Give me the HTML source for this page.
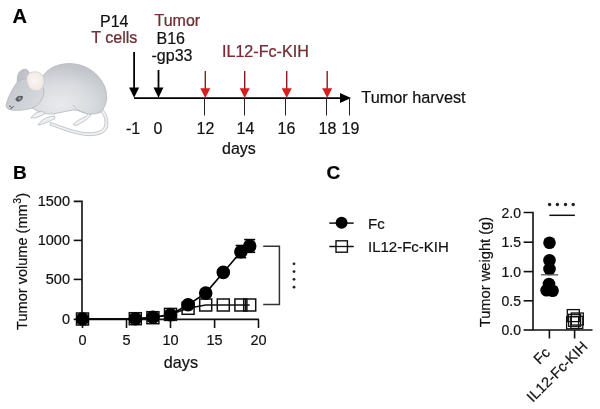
<!DOCTYPE html>
<html><head><meta charset="utf-8">
<style>
html,body{margin:0;padding:0;background:#fff;}
body{width:600px;height:409px;overflow:hidden;}
svg{display:block;will-change:transform;}
text{font-family:"Liberation Sans",sans-serif;stroke:#111;stroke-width:0.2px;}
</style></head>
<body>
<svg width="600" height="409" viewBox="0 0 600 409">
<defs>
<radialGradient id="bodyg" cx="0.38" cy="0.8" r="0.75" fx="0.38" fy="0.8">
<stop offset="0" stop-color="#e9ebee"/>
<stop offset="0.55" stop-color="#d8dbdf"/>
<stop offset="1" stop-color="#c2c6cc"/>
</radialGradient>
<linearGradient id="headg" x1="0" y1="0" x2="1" y2="0.5">
<stop offset="0" stop-color="#c0c4ca"/>
<stop offset="1" stop-color="#d6d9dd"/>
</linearGradient>
<linearGradient id="earg" x1="0" y1="0" x2="1" y2="1">
<stop offset="0" stop-color="#b8bcc2"/>
<stop offset="1" stop-color="#c8cbd0"/>
</linearGradient>
<radialGradient id="pinkg" cx="0.45" cy="0.45" r="0.6">
<stop offset="0" stop-color="#faf6f3"/>
<stop offset="1" stop-color="#f0e7e2"/>
</radialGradient>
</defs>
<rect width="600" height="409" fill="#fff"/>

<!-- ===== Panel A ===== -->
<text x="12.5" y="22.5" font-size="20" font-weight="bold" fill="#000">A</text>

<!-- mouse -->
<g id="mouse" stroke="#aeb2b8" stroke-width="0.7" stroke-linejoin="round">
  <!-- tail -->
  <path d="M102,109 C107,113 108.5,121 107.5,127 C106,133 98,136 88,135.6 C76,135 62,129.5 50,125 L50.5,122.3 C63,127 77,132.5 88,132.8 C97,133 103,130.5 104.5,126 C106,120 104,114 99.5,111 Z" fill="#eff0f2"/>
  <!-- hind foot -->
  <path d="M73,124.5 C76,121.5 81,118.5 86,116.5 L88.5,113 L91,115 C88,119 82,123 76,125.5 Z" fill="#f0f1f3"/>
  <!-- body -->
  <path d="M42,78 C47,68 58,63.5 70,63.5 C84,64 97,71 104,85 C108,94 108,104 101,112 C95,114.5 89,114.5 86,113.5 C80,111 76,110 73,110 C66,111 60,113 53,114 C46,114.5 38,112 32,108 Z" fill="url(#bodyg)"/>
  <path d="M73,105 C75,108 78,111 86,113.5" fill="none" stroke="#b4b8be"/>
  <!-- front paws -->
  <path d="M31,118 C33,114 37,111.5 42.5,111.5 L45,113.5 C41,116 36,118.5 31,118 Z" fill="#eef0f2"/>
  <path d="M38,125 C41,120 47,116.5 54.5,116 L55,118.5 C50,121 44,124 38,125 Z" fill="#eef0f2"/>
  <!-- back ear -->
  <path d="M17.5,83 C16.5,76 18.5,71 23,69.5 C27,68.5 29.5,71 29.5,75 L29,83 Z" fill="url(#earg)"/>
  <!-- head -->
  <path d="M18,81 C14,86 9,95 6.5,103 C5.5,106 6.5,108.5 9,109.5 C15,111 24,110.5 32,108 C38,106 43,100 44,92 C44,86 40,81 34,79 C28,78 22,78.5 18,81 Z" fill="url(#headg)"/>
  <!-- front ear -->
  <path d="M26.8,79 C26.5,74 31,71.5 36,71.8 C41,72.2 44.5,76 44,82.5 C43.5,88.5 40,91.5 35,90.8 C30,90 27,85 26.8,79 Z" fill="url(#pinkg)" stroke="#cfcac6"/>
  <!-- eye -->
  <path d="M15.3,99.5 C16.3,96 19.5,94.8 23,96.2 C23,99.8 20,102 17,101.6 Z" fill="#5b6067" stroke="none"/>
  <circle cx="19.6" cy="98.4" r="1.2" fill="#a4a9af" stroke="none"/>
  <g fill="#3a3d42" stroke="none">
    <circle cx="10" cy="106.2" r="0.7"/>
    <circle cx="12" cy="107.4" r="0.7"/>
    <circle cx="11" cy="108.6" r="0.6"/>
    <circle cx="13.6" cy="106.6" r="0.5"/>
  </g>
</g>

<!-- labels -->
<text x="100" y="27" font-size="16" fill="#111">P14</text>
<text x="91.2" y="42.9" font-size="16.1" fill="#862a32" stroke="#862a32">T cells</text>
<text x="154.5" y="25.9" font-size="16" fill="#862a32" stroke="#862a32">Tumor</text>
<text x="156.5" y="44" font-size="16" fill="#111">B16</text>
<text x="151.5" y="60.6" font-size="16" fill="#111">-gp33</text>
<text x="222" y="57.4" font-size="16.1" fill="#862a32" stroke="#862a32">IL12-Fc-KIH</text>
<text x="361.3" y="102.9" font-size="16.3" fill="#111">Tumor harvest</text>

<!-- timeline -->
<g>
  <line x1="134" y1="98.2" x2="341" y2="98.2" stroke="#000" stroke-width="1.8"/>
  <polygon points="340,93.1 351,98.1 340,103.1" fill="#000"/>
  <!-- black arrows -->
  <line x1="134.1" y1="52" x2="134.1" y2="89" stroke="#000" stroke-width="1.8"/>
  <polygon points="129.1,87.4 139.1,87.4 134.1,97.7" fill="#000"/>
  <line x1="158.5" y1="70" x2="158.5" y2="89" stroke="#000" stroke-width="1.8"/>
  <polygon points="153.5,87.4 163.5,87.4 158.5,97.7" fill="#000"/>
  <!-- red arrows -->
  <g stroke="#8a1c1c" stroke-width="1.4">
    <line x1="205.3" y1="71" x2="205.3" y2="90"/>
    <line x1="244.7" y1="71" x2="244.7" y2="90"/>
    <line x1="286.7" y1="71" x2="286.7" y2="90"/>
    <line x1="327.2" y1="71" x2="327.2" y2="90"/>
  </g>
  <g fill="#d91c1c">
    <polygon points="200.3,88.3 210.3,88.3 205.3,97.9"/>
    <polygon points="239.7,88.3 249.7,88.3 244.7,97.9"/>
    <polygon points="281.7,88.3 291.7,88.3 286.7,97.9"/>
    <polygon points="322.2,88.3 332.2,88.3 327.2,97.9"/>
  </g>
  <g stroke="#222" stroke-width="1">
    <line x1="204.5" y1="98" x2="204.5" y2="115.5"/>
    <line x1="244.5" y1="98" x2="244.5" y2="115.5"/>
    <line x1="285.5" y1="98" x2="285.5" y2="115.5"/>
    <line x1="326.5" y1="98" x2="326.5" y2="115.5"/>
    <line x1="349.5" y1="98" x2="349.5" y2="115.5"/>
  </g>
</g>
<g font-size="16" fill="#111">
  <text x="126" y="134">-1</text>
  <text x="153.5" y="134">0</text>
  <text x="196.5" y="134">12</text>
  <text x="236.5" y="134">14</text>
  <text x="277.5" y="134">16</text>
  <text x="318.5" y="134">18</text>
  <text x="341.5" y="134">19</text>
  <text x="222" y="153.7">days</text>
</g>

<!-- ===== Panel B ===== -->
<text x="13" y="178.6" font-size="19" font-weight="bold" fill="#000">B</text>
<g stroke="#111" stroke-width="1.6" fill="none">
  <polyline points="73.7,201.4 82,201.4 82,319.4 259,319.4"/>
  <line x1="73.7" y1="240.4" x2="82" y2="240.4"/>
  <line x1="73.7" y1="279.4" x2="82" y2="279.4"/>
  <line x1="73.7" y1="319.4" x2="82" y2="319.4"/>
  <line x1="82.5" y1="319.4" x2="82.5" y2="328"/>
  <line x1="126.5" y1="319.4" x2="126.5" y2="328"/>
  <line x1="170.5" y1="319.4" x2="170.5" y2="328"/>
  <line x1="214.6" y1="319.4" x2="214.6" y2="328"/>
  <line x1="258.5" y1="319.4" x2="258.5" y2="328"/>
</g>
<g font-size="14.5" fill="#111" text-anchor="end">
  <text x="70" y="206">1500</text>
  <text x="70" y="245">1000</text>
  <text x="70" y="284">500</text>
  <text x="70" y="324">0</text>
</g>
<g font-size="14.5" fill="#111" text-anchor="middle">
  <text x="82.5" y="345.3">0</text>
  <text x="126.5" y="345.3">5</text>
  <text x="170.5" y="345.3">10</text>
  <text x="214.6" y="345.3">15</text>
  <text x="258.5" y="345.3">20</text>
</g>
<text x="163.8" y="367.8" font-size="16.2" fill="#111">days</text>
<text transform="translate(27,329.9) rotate(-90)" font-size="14.55" fill="#111">Tumor volume (mm<tspan font-size="10.3" dy="-6.2" dx="0.5">3</tspan><tspan dy="6.2" dx="0.3">)</tspan></text>

<!-- IL12 squares -->
<g stroke="#111" stroke-width="1.5" fill="none">
  <polyline points="82.5,319 135.3,318.7 152.9,317.7 170.5,314.4 188.1,308.3 205.7,305 223.3,305 240.9,305 249.7,305"/>
  <rect x="76.5" y="313.0" width="12" height="12"/>
  <rect x="129.3" y="312.7" width="12" height="12"/>
  <rect x="146.9" y="311.7" width="12" height="12"/>
  <rect x="164.5" y="308.4" width="12" height="12"/>
  <rect x="182.1" y="302.3" width="12" height="12"/>
  <rect x="199.7" y="299.0" width="12" height="12"/>
  <rect x="217.3" y="299.0" width="12" height="12"/>
  <rect x="234.9" y="299.0" width="12" height="12"/>
  <rect x="243.7" y="299.0" width="12" height="12"/>
  <line x1="245.5" y1="299" x2="245.5" y2="311"/>
</g>
<!-- Fc circles -->
<g stroke="#000" stroke-width="1.6" fill="#000">
  <polyline points="82.5,319 135.3,318.7 152.9,317.3 170.5,314.7 188.1,304.7 205.7,293.1 223.3,272.4 240.9,251.7 249.7,246.1" fill="none"/>
  <circle cx="82.5" cy="319" r="6"/>
  <circle cx="135.3" cy="318.7" r="6"/>
  <circle cx="152.9" cy="317.3" r="6"/>
  <circle cx="170.5" cy="314.7" r="6"/>
  <circle cx="188.1" cy="304.7" r="6"/>
  <circle cx="205.7" cy="293.1" r="6"/>
  <circle cx="223.3" cy="272.4" r="6"/>
  <circle cx="240.9" cy="251.7" r="6"/>
  <circle cx="249.7" cy="246.1" r="6"/>
  <line x1="240.9" y1="245.5" x2="240.9" y2="257.6"/>
  <line x1="235.6" y1="245.5" x2="246.2" y2="245.5"/>
  <line x1="235.6" y1="257.6" x2="246.2" y2="257.6"/>
  <line x1="249.7" y1="239.6" x2="249.7" y2="252.3"/>
  <line x1="244.2" y1="239.6" x2="255.2" y2="239.6"/>
  <line x1="244.2" y1="252.3" x2="255.2" y2="252.3"/>
</g>
<!-- bracket -->
<polyline points="263.2,246.2 279.4,246.2 279.4,304.4 263.2,304.4" fill="none" stroke="#333" stroke-width="1.5"/>
<g fill="#222">
  <circle cx="294" cy="263.8" r="1.4"/>
  <circle cx="294" cy="271.6" r="1.4"/>
  <circle cx="294" cy="279.3" r="1.4"/>
  <circle cx="294" cy="287.2" r="1.4"/>
</g>

<!-- ===== Panel C ===== -->
<text x="326.6" y="178.6" font-size="19" font-weight="bold" fill="#000">C</text>
<!-- legend -->
<line x1="329.3" y1="223.1" x2="353.7" y2="223.1" stroke="#111" stroke-width="1.5"/>
<circle cx="341.6" cy="222.8" r="6" fill="#000"/>
<text x="368" y="228.5" font-size="15" fill="#111">Fc</text>
<line x1="329.3" y1="246.5" x2="353.7" y2="246.5" stroke="#111" stroke-width="1.5"/>
<rect x="336" y="240.8" width="11.4" height="11.4" fill="#fff" stroke="#111" stroke-width="1.4"/>
<line x1="336" y1="246.5" x2="347.4" y2="246.5" stroke="#111" stroke-width="1.3"/>
<text x="368" y="251.7" font-size="15" fill="#111">IL12-Fc-KIH</text>

<!-- C axes -->
<g stroke="#111" stroke-width="1.6" fill="none">
  <polyline points="523.6,212.5 533,212.5 533,330 592.5,330"/>
  <line x1="523.6" y1="242.2" x2="533" y2="242.2"/>
  <line x1="523.6" y1="271.6" x2="533" y2="271.6"/>
  <line x1="523.6" y1="300.8" x2="533" y2="300.8"/>
  <line x1="523.6" y1="330" x2="533" y2="330"/>
  <line x1="549.4" y1="330" x2="549.4" y2="338.5"/>
  <line x1="574.6" y1="330" x2="574.6" y2="338.5"/>
</g>
<g font-size="14" fill="#111" text-anchor="end">
  <text x="521" y="217.6">2.0</text>
  <text x="521" y="247.3">1.5</text>
  <text x="521" y="276.7">1.0</text>
  <text x="521" y="305.9">0.5</text>
  <text x="521" y="335.1">0.0</text>
</g>
<text transform="translate(489.5,327.3) rotate(-90)" font-size="14.7" fill="#111">Tumor weight (g)</text>
<text transform="translate(551,353.6) rotate(-45)" font-size="14.6" fill="#111" text-anchor="end">Fc</text>
<text transform="translate(588.5,347.3) rotate(-45)" font-size="14.6" fill="#111" text-anchor="end">IL12-Fc-KIH</text>

<!-- C dots -->
<g fill="#000">
  <circle cx="549.5" cy="242.8" r="6.3"/>
  <circle cx="549.5" cy="260.3" r="6.3"/>
  <circle cx="549.5" cy="269" r="6.3"/>
  <circle cx="549" cy="284" r="6.3"/>
  <circle cx="546.6" cy="290.2" r="6.3"/>
  <circle cx="552.6" cy="290.8" r="6.3"/>
</g>
<line x1="541" y1="274.8" x2="558.2" y2="274.8" stroke="#555" stroke-width="1.3"/>
<g stroke="#111" stroke-width="1.3" fill="none">
  <rect x="567.3" y="309.6" width="12" height="12"/>
  <rect x="571.3" y="313" width="12" height="12"/>
  <rect x="566.6" y="316.8" width="12" height="12"/>
  <rect x="570.8" y="316.4" width="12" height="12"/>
  <rect x="568.6" y="314.3" width="12" height="12"/>
</g>
<line x1="549.4" y1="215.3" x2="574.9" y2="215.3" stroke="#111" stroke-width="1.5"/>
<g fill="#222">
  <circle cx="549.6" cy="204.5" r="1.7"/>
  <circle cx="557.4" cy="204.5" r="1.7"/>
  <circle cx="565.5" cy="204.5" r="1.7"/>
  <circle cx="573.2" cy="204.5" r="1.7"/>
</g>
</svg>
</body></html>
